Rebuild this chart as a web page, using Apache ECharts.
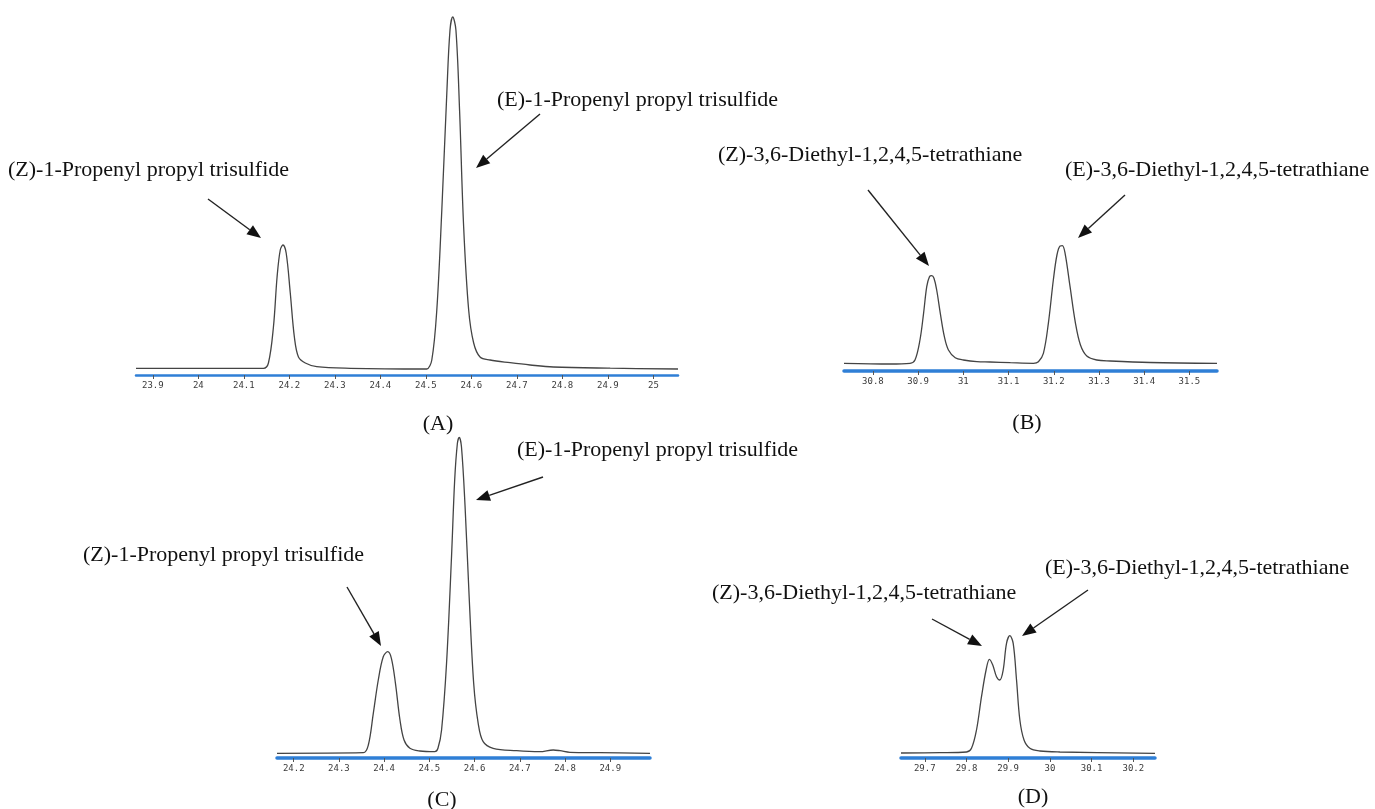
<!DOCTYPE html>
<html>
<head>
<meta charset="utf-8">
<title>GC chromatograms</title>
<script src="https://cdn.jsdelivr.net/npm/echarts@6/dist/echarts.min.js"></script>
<style>
	html, body { margin: 0; padding: 0; background: #fff; }
	#chart { width: 1375px; height: 809px; }
</style>
</head>
<body>
<div id="chart"></div>
<script>
	// retention time (min) and signal height
	var timeA = [23.863, 24.000, 24.143, 24.154, 24.165, 24.173, 24.180, 24.186, 24.193, 24.202, 24.211, 24.220, 24.235, 24.260, 24.334,
		24.495, 24.502, 24.513, 24.524, 24.535, 24.546, 24.553, 24.559, 24.566, 24.574, 24.583, 24.594, 24.605, 24.619, 24.641,
		24.685, 24.729, 24.780, 24.905, 25.054];
	var signalA = [6.7, 6.7, 6.7, 12, 48, 98, 125, 130, 122, 82, 38, 18, 12, 8.3, 6.7,
		6, 6, 15, 65, 165, 282, 345, 358, 345, 265, 148, 65, 32, 18, 15,
		12.3, 10, 8, 6.8, 6];

	var timeB = [30.736, 30.838, 30.882, 30.893, 30.904, 30.912, 30.919, 30.925, 30.930, 30.935, 30.941, 30.949, 30.958, 30.967, 30.982,
		31.000, 31.030, 31.059, 31.104, 31.155, 31.166, 31.177, 31.188, 31.199, 31.207, 31.214, 31.219, 31.225, 31.236, 31.248,
		31.259, 31.273, 31.295, 31.325, 31.413, 31.561];
	var signalB = [7.7, 7, 7.7, 11, 31, 57.7, 84.3, 94.3, 95.3, 92.7, 81, 57.7, 34.3, 21, 13.3,
		11, 9.3, 9, 8.3, 7.7, 9.3, 17.7, 47.7, 91, 116, 125, 125.3, 117.7, 84.3, 47.7,
		26, 15, 11, 10, 8.5, 7.7];

	var timeC = [24.163, 24.354, 24.365, 24.376, 24.387, 24.398, 24.408, 24.416, 24.425, 24.435, 24.444, 24.457, 24.479, 24.512,
		24.519, 24.527, 24.538, 24.549, 24.556, 24.562, 24.566, 24.571, 24.579, 24.588, 24.598, 24.608, 24.619, 24.641,
		24.693, 24.744, 24.774, 24.789, 24.811, 24.877, 24.988];
	var signalC = [4.7, 5.3, 13, 44.7, 78, 101.3, 106.3, 99.7, 74.7, 38, 18, 9.7, 7, 6.3,
		9.7, 28, 94.7, 201.3, 278, 314.7, 320.7, 311.3, 251.3, 161.3, 74.7, 34.7, 16.3, 9.7,
		7.3, 6.3, 8, 7.3, 5.7, 5.3, 4.7];

	var timeD = [29.643, 29.736, 29.800, 29.812, 29.824, 29.836, 29.847, 29.855, 29.863, 29.872, 29.880, 29.888, 29.896, 29.904,
		29.912, 29.920, 29.928, 29.938, 29.952, 29.976, 30.024, 30.252];
	var signalD = [5, 5.3, 6, 9.7, 28, 61.3, 88, 98.7, 93, 81.3, 78, 88, 114.7, 122.3,
		114.7, 78, 38, 18, 9.7, 7, 6, 4.7];

	// tick labels printed under each axis
	var ticksA = [23.9, 24, 24.1, 24.2, 24.3, 24.4, 24.5, 24.6, 24.7, 24.8, 24.9, 25];
	var ticksB = [30.8, 30.9, 31, 31.1, 31.2, 31.3, 31.4, 31.5];
	var ticksC = [24.2, 24.3, 24.4, 24.5, 24.6, 24.7, 24.8, 24.9];
	var ticksD = [29.7, 29.8, 29.9, 30, 30.1, 30.2];

	var ranges = [[23.863, 25.054], [30.736, 31.561], [24.163, 24.988], [29.643, 30.252]];
	var labelZ1 = '(Z)-1-Propenyl propyl trisulfide';
	var labelE1 = '(E)-1-Propenyl propyl trisulfide';
	var labelZ3 = '(Z)-3,6-Diethyl-1,2,4,5-tetrathiane';
	var labelE3 = '(E)-3,6-Diethyl-1,2,4,5-tetrathiane';

	var grids = [
		{ left: 136, top: 10, width: 542, height: 365 },
		{ left: 844, top: 230, width: 373, height: 141 },
		{ left: 277, top: 430, width: 373, height: 328 },
		{ left: 901, top: 620, width: 254, height: 138 }
	];
	var tickSets = [ticksA, ticksB, ticksC, ticksD];
	var traces = [[timeA, signalA], [timeB, signalB], [timeC, signalC], [timeD, signalD]];

	function pairs(xs, ys) {
		var out = [];
		for (var i = 0; i < xs.length; i++) out.push([xs[i], ys[i]]);
		return out;
	}

	//text and arrow annotations
	var serif = '"Liberation Serif", "Times New Roman", serif';
	function label(text, x, y, align) {
		return {
			type: 'text', x: x, y: y,
			style: { text: text, font: '22px ' + serif, fill: '#111', align: align || 'left', verticalAlign: 'middle' }
		};
	}
	function arrow(x1, y1, x2, y2) {
		var a = Math.atan2(y2 - y1, x2 - x1);
		var len = 14, half = 5.5;
		var bx = x2 - len * Math.cos(a), by = y2 - len * Math.sin(a);
		return [{
			type: 'line',
			shape: { x1: x1, y1: y1, x2: bx, y2: by },
			style: { stroke: '#222', lineWidth: 1.4 }
		}, {
			type: 'polygon',
			shape: { points: [[x2, y2], [bx + half * Math.sin(a), by - half * Math.cos(a)], [bx - half * Math.sin(a), by + half * Math.cos(a)]] },
			style: { fill: '#111' }
		}];
	}

	var graphic = [
		label(labelZ1, 8, 170), label(labelE1, 497, 100),
		label(labelZ3, 718, 155), label(labelE3, 1065, 170),
		label(labelE1, 517, 450), label(labelZ1, 83, 555),
		label(labelZ3, 712, 593), label(labelE3, 1045, 568),
		label('(A)', 438, 424, 'center'), label('(B)', 1027, 423, 'center'),
		label('(C)', 442, 800, 'center'), label('(D)', 1033, 797, 'center')
	].concat(
		arrow(208, 199, 261, 238), arrow(540, 114, 476, 168),
		arrow(868, 190, 929, 266), arrow(1125, 195, 1078, 238),
		arrow(543, 477, 476, 500), arrow(347, 587, 381, 646),
		arrow(932, 619, 982, 646), arrow(1088, 590, 1022, 636)
	);

	var xAxes = [], yAxes = [], series = [];
	grids.forEach(function (g, i) {
		g.outerBoundsMode = 'none';
		xAxes.push({
			type: 'value', gridIndex: i,
			min: ranges[i][0], max: ranges[i][1],
			axisLine: { show: true, onZero: false, lineStyle: { color: '#2f7fd6', width: i == 0 ? 2.5 : 3.5 } },
			axisTick: { show: true, length: 4, customValues: tickSets[i], lineStyle: { color: '#555', width: 1 } },
			axisLabel: {
				customValues: tickSets[i], margin: 6,
				fontFamily: '"DejaVu Sans Mono", monospace', fontSize: 9, color: '#3a3a3a'
			},
			splitLine: { show: false }
		});
		yAxes.push({ type: 'value', gridIndex: i, min: 0, max: g.height, show: false, splitLine: { show: false } });
		series.push({
			type: 'line', xAxisIndex: i, yAxisIndex: i,
			data: pairs(traces[i][0], traces[i][1]),
			symbol: 'none', smooth: 0.35,
			lineStyle: { color: '#444', width: 1.3 }
		});
	});

	var myChart = echarts.init(document.getElementById('chart'));
	myChart.setOption({
		animation: false,
		backgroundColor: '#fff',
		grid: grids,
		xAxis: xAxes,
		yAxis: yAxes,
		series: series,
		graphic: graphic
	});
</script>
</body>
</html>
